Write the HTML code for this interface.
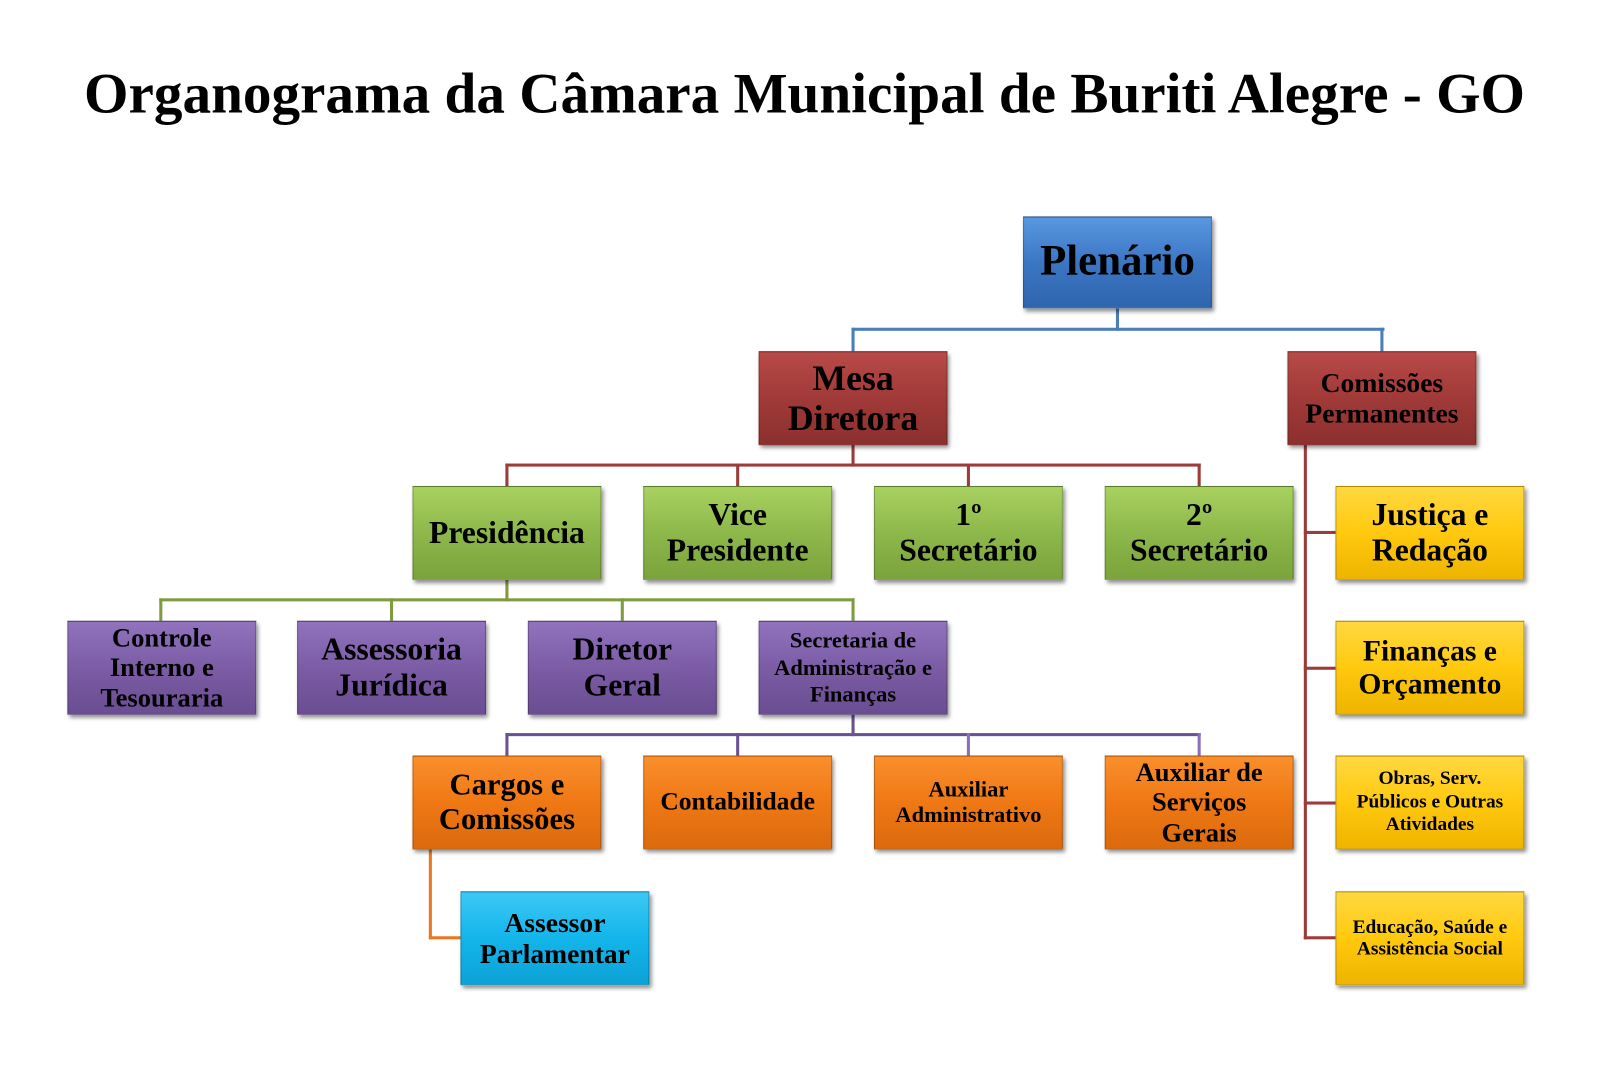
<!DOCTYPE html>
<html><head><meta charset="utf-8"><style>
html,body{margin:0;padding:0;background:#fff;}
body{width:1600px;height:1078px;overflow:hidden;position:relative;}
#w{position:absolute;left:0;top:0;width:1560px;height:1051px;transform:scale(1.021);transform-origin:0 0;}
.t{position:absolute;left:0;width:1576px;top:60px;text-align:center;font:bold 56px "Liberation Serif",serif;color:#000;white-space:nowrap;}
.b{position:absolute;width:185px;height:92px;display:flex;align-items:center;justify-content:center;text-align:center;font-family:"Liberation Serif",serif;font-weight:bold;color:#000;box-shadow:2px 3px 4px rgba(0,0,0,.45);box-sizing:border-box;border:1px solid rgba(0,0,0,.25);}
.b span{display:block;white-space:nowrap;line-height:1.12;}
.bl{background:linear-gradient(#5a97e0,#3b76c4 50%,#2f65ad);}
.rd{background:linear-gradient(#b84a47,#a03a38 50%,#8c302e);}
.gr{background:linear-gradient(#a8d160,#8db84a 50%,#7aa33c);}
.pu{background:linear-gradient(#9172bd,#7b5ca5 50%,#6a4d92);}
.or{background:linear-gradient(#f98f2c,#ef7814 50%,#db6a0c);}
.cy{background:linear-gradient(#3cc8f5,#13b5ea 50%,#0ca2d6);}
.ye{background:linear-gradient(#ffd840,#ffc90e 50%,#eeb400);}
.l{position:absolute;}
</style></head><body><div id="w">
<div class="t">Organograma da Câmara Municipal de Buriti Alegre - GO</div>

<div class="l" style="left:1093px;top:302px;width:3px;height:22px;background:#4a7ebb"></div>
<div class="l" style="left:834px;top:321px;width:522px;height:3px;background:#4a7ebb"></div>
<div class="l" style="left:834px;top:321px;width:3px;height:23px;background:#4a7ebb"></div>
<div class="l" style="left:1352px;top:321px;width:3px;height:23px;background:#4a7ebb"></div>

<div class="l" style="left:834px;top:435px;width:3px;height:22px;background:#9b3b3a"></div>
<div class="l" style="left:495px;top:454px;width:681px;height:3px;background:#9b3b3a"></div>
<div class="l" style="left:495px;top:454px;width:3px;height:22px;background:#9b3b3a"></div>
<div class="l" style="left:721px;top:454px;width:3px;height:22px;background:#9b3b3a"></div>
<div class="l" style="left:947px;top:454px;width:3px;height:22px;background:#9b3b3a"></div>
<div class="l" style="left:1173px;top:454px;width:3px;height:22px;background:#9b3b3a"></div>

<div class="l" style="left:495px;top:568px;width:3px;height:21px;background:#7f9b3f"></div>
<div class="l" style="left:156px;top:586px;width:681px;height:3px;background:#7f9b3f"></div>
<div class="l" style="left:156px;top:586px;width:3px;height:22px;background:#7f9b3f"></div>
<div class="l" style="left:382px;top:586px;width:3px;height:22px;background:#7f9b3f"></div>
<div class="l" style="left:608px;top:586px;width:3px;height:22px;background:#7f9b3f"></div>
<div class="l" style="left:834px;top:586px;width:3px;height:22px;background:#7f9b3f"></div>

<div class="l" style="left:834px;top:700px;width:3px;height:21px;background:#6a5290"></div>
<div class="l" style="left:495px;top:718px;width:681px;height:3px;background:#6a5290"></div>
<div class="l" style="left:495px;top:718px;width:3px;height:22px;background:#6a5290"></div>
<div class="l" style="left:721px;top:718px;width:3px;height:22px;background:#6a5290"></div>
<div class="l" style="left:947px;top:718px;width:3px;height:22px;background:#8a70b8"></div>
<div class="l" style="left:1173px;top:718px;width:3px;height:22px;background:#8a70b8"></div>

<div class="l" style="left:420px;top:832px;width:3px;height:88px;background:#e87722"></div>
<div class="l" style="left:420px;top:917px;width:31px;height:3px;background:#e87722"></div>

<div class="l" style="left:1277px;top:435px;width:3px;height:485px;background:#9b3b3a"></div>
<div class="l" style="left:1277px;top:520px;width:31px;height:3px;background:#9b3b3a"></div>
<div class="l" style="left:1277px;top:653px;width:31px;height:3px;background:#9b3b3a"></div>
<div class="l" style="left:1277px;top:785px;width:31px;height:3px;background:#9b3b3a"></div>
<div class="l" style="left:1277px;top:917px;width:31px;height:3px;background:#9b3b3a"></div>

<div class="b bl" style="left:1002px;top:212px;height:90px;font-size:42px"><span>Plenário</span></div>
<div class="b rd" style="left:743px;top:344px;font-size:35px"><span>Mesa<br>Diretora</span></div>
<div class="b rd" style="left:1261px;top:344px;font-size:27px"><span>Comissões<br>Permanentes</span></div>

<div class="b gr" style="left:404px;top:476px;font-size:31px"><span>Presidência</span></div>
<div class="b gr" style="left:630px;top:476px;font-size:31px"><span>Vice<br>Presidente</span></div>
<div class="b gr" style="left:856px;top:476px;font-size:31px"><span>1º<br>Secretário</span></div>
<div class="b gr" style="left:1082px;top:476px;font-size:31px"><span>2º<br>Secretário</span></div>

<div class="b pu" style="left:66px;top:608px;font-size:26px"><span>Controle<br>Interno e<br>Tesouraria</span></div>
<div class="b pu" style="left:291px;top:608px;font-size:31px"><span>Assessoria<br>Jurídica</span></div>
<div class="b pu" style="left:517px;top:608px;font-size:31px"><span>Diretor<br>Geral</span></div>
<div class="b pu" style="left:743px;top:608px;font-size:22px"><span style="line-height:1.2">Secretaria de<br>Administração e<br>Finanças</span></div>

<div class="b or" style="left:404px;top:740px;font-size:30px"><span>Cargos e<br>Comissões</span></div>
<div class="b or" style="left:630px;top:740px;font-size:25px"><span>Contabilidade</span></div>
<div class="b or" style="left:856px;top:740px;font-size:22px"><span>Auxiliar<br>Administrativo</span></div>
<div class="b or" style="left:1082px;top:740px;font-size:26px"><span>Auxiliar de<br>Serviços<br>Gerais</span></div>

<div class="b cy" style="left:451px;top:873px;font-size:27px"><span>Assessor<br>Parlamentar</span></div>

<div class="b ye" style="left:1308px;top:476px;font-size:31px"><span>Justiça e<br>Redação</span></div>
<div class="b ye" style="left:1308px;top:608px;font-size:29px"><span>Finanças e<br>Orçamento</span></div>
<div class="b ye" style="left:1308px;top:740px;font-size:19px"><span style="line-height:1.18">Obras, Serv.<br>Públicos e Outras<br>Atividades</span></div>
<div class="b ye" style="left:1308px;top:873px;font-size:19px"><span>Educação, Saúde e<br>Assistência Social</span></div>
</div></body></html>
